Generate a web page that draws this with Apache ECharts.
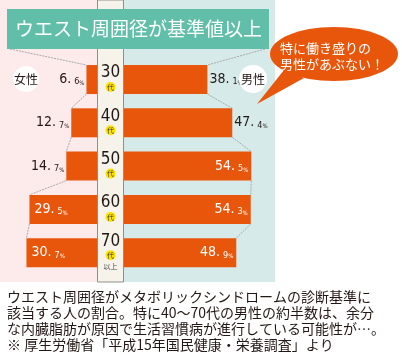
<!DOCTYPE html>
<html><head><meta charset="utf-8">
<script src="https://cdn.jsdelivr.net/npm/echarts@6/dist/echarts.min.js"></script>
<style>html,body{margin:0;padding:0;background:#fff}#c{width:402px;height:360px}</style>
</head><body><div id="c"></div>
<script>
// ---- data ----
const categories = ['30', '40', '50', '60', '70'];
const femaleValues = [6.6, 12.7, 14.7, 29.5, 30.7];
const maleValues = [38.1, 47.4, 54.5, 54.3, 48.9];
const titleText = 'ウエスト周囲径が基準値以上';
const bubbleLines = ['特に働き盛りの', '男性があぶない！'];
const noteLines = [
  'ウエスト周囲径がメタボリックシンドロームの診断基準に',
  '該当する人の割合。特に40〜70代の男性の約半数は、余分',
  'な内臓脂肪が原因で生活習慣病が進行している可能性が…。',
  '※ 厚生労働省「平成15年国民健康・栄養調査」より'
];

// ---- styles ----
const ORANGE = '#e8560c';
const DARK = '#231815';
const NARROW = "'Liberation Sans Narrow','DejaVu Sans Condensed',sans-serif";
const JP = "'Noto Sans CJK JP',sans-serif";
const BAR_W = 29;

function fmt(p) {
  const s = Number(p.value).toFixed(1).split('.');
  return '{i|' + s[0] + '.}{d|' + s[1] + '}{p|%}';
}
function richFor(color) {
  return {
    i: {fontSize: 14, fontFamily: NARROW, color: color, lineHeight: 14, verticalAlign: 'bottom'},
    d: {fontSize: 9, fontFamily: NARROW, color: color, lineHeight: 11, verticalAlign: 'bottom', padding: [0, 0, 0, 3]},
    p: {fontSize: 6, fontFamily: NARROW, color: color, lineHeight: 10, verticalAlign: 'bottom'}
  };
}
function barData(values, insideTest, insidePos, outsidePos, insideDist) {
  return values.map(v => {
    const inside = insideTest(v);
    return {
      value: v,
      label: {
        show: true,
        position: inside ? insidePos : outsidePos,
        distance: inside ? insideDist : 2,
        formatter: fmt,
        rich: richFor(inside ? '#fff' : DARK)
      }
    };
  });
}
function connector(xi, yi, values, anchor) {
  return {
    type: 'custom', xAxisIndex: xi, yAxisIndex: yi, z: 1, silent: true,
    data: values.map((v, i) => [v, i]),
    encode: {x: 0, y: 1},
    renderItem(params, api) {
      const i = api.value(1);
      const cur = api.coord([api.value(0), i]);
      const half = BAR_W / 2;
      let start;
      if (i === 0) start = anchor;
      else {
        const prev = api.coord([values[i - 1], i - 1]);
        start = [prev[0], prev[1] + half];
      }
      return {
        type: 'line',
        shape: {x1: start[0], y1: start[1], x2: cur[0], y2: cur[1] - half},
        style: {stroke: '#a9a9a9', lineWidth: 1, lineDash: [2, 1]}
      };
    }
  };
}

const chart = echarts.init(document.getElementById('c'), null, {renderer: 'canvas'});
const gTop = 57.9, gH = 216.4;
const option = {
  animation: false,
  grid: [
    {left: 0, width: 102.9, top: gTop, height: gH},
    {left: 105.4, width: 160.6, top: gTop, height: gH}
  ],
  xAxis: [
    {gridIndex: 0, type: 'value', inverse: true, min: 0, max: 102.9 / 2.49, show: false},
    {gridIndex: 1, type: 'value', min: 0, max: 60, show: false}
  ],
  yAxis: [
    {
      gridIndex: 0, type: 'category', inverse: true, data: categories, position: 'right', z: 10,
      axisLine: {show: false}, axisTick: {show: false}, splitLine: {show: false},
      axisLabel: {
        margin: 7.6, align: 'center',
        formatter: (val, idx) => idx === categories.length - 1
          ? '{n|' + val + '}\n{d|代}\n{s|以上}'
          : '{n|' + val + '}\n{d|代}',
        rich: {
          n: {fontSize: 17, fontFamily: NARROW, color: DARK, lineHeight: 15, align: 'center'},
          d: {fontSize: 7, fontFamily: JP, color: '#333', backgroundColor: '#ffe100', borderRadius: 5,
              width: 10, height: 10, lineHeight: 13, align: 'center'},
          s: {fontSize: 7, fontFamily: JP, color: '#444', lineHeight: 10, align: 'center'}
        }
      }
    },
    {gridIndex: 1, type: 'category', inverse: true, data: categories, show: false}
  ],
  series: [
    {
      type: 'bar', name: '女性', xAxisIndex: 0, yAxisIndex: 0, barWidth: BAR_W, z: 2,
      itemStyle: {color: ORANGE},
      data: barData(femaleValues, v => v > 20, 'insideLeft', 'left', 5)
    },
    {
      type: 'bar', name: '男性', xAxisIndex: 1, yAxisIndex: 1, barWidth: BAR_W, z: 2,
      itemStyle: {color: ORANGE},
      data: barData(maleValues, v => v > 48, 'insideRight', 'right', 3)
    },
    connector(0, 0, femaleValues, [10, 49]),
    connector(1, 1, maleValues, [265, 49])
  ],
  graphic: [
    // panels
    {type: 'rect', z: -5, shape: {x: 0, y: 0, width: 98, height: 282}, style: {fill: '#fdeaea'}},
    {type: 'rect', z: -5, shape: {x: 123, y: 0, width: 152, height: 282}, style: {fill: '#d6ebe9'}},
    // centre column
    {type: 'rect', z: 5, shape: {x: 97.5, y: 0, width: 26, height: 282}, style: {fill: '#f6f4ea', stroke: '#8f8f8f', lineWidth: 1}},
    // title
    {type: 'rect', z: 6, shape: {x: 7, y: 9, width: 262, height: 40}, style: {fill: '#61bea9'}},
    {type: 'text', z: 7, x: 15, y: 29, style: {text: titleText, fill: '#fff', font: '19px ' + JP, verticalAlign: 'middle'}},
    // gender badges
    {type: 'circle', z: 6, shape: {cx: 26, cy: 79, r: 13}, style: {fill: '#fff'}},
    {type: 'text', z: 7, x: 26, y: 79, style: {text: '女性', fill: DARK, font: '12px ' + JP, align: 'center', verticalAlign: 'middle'}},
    {type: 'circle', z: 6, shape: {cx: 253, cy: 79, r: 14}, style: {fill: '#fff'}},
    {type: 'text', z: 7, x: 253, y: 79, style: {text: '男性', fill: DARK, font: '12px ' + JP, align: 'center', verticalAlign: 'middle'}},
    // speech bubble
    {type: 'polygon', z: 8, shape: {points: [[284, 70], [304, 78], [257, 104]]}, style: {fill: ORANGE}},
    {type: 'ellipse', z: 8, shape: {cx: 334, cy: 54, rx: 64, ry: 27}, style: {fill: ORANGE}},
    {type: 'text', z: 9, x: 280, y: 48, style: {text: bubbleLines[0], fill: '#fff', font: '13px ' + JP, verticalAlign: 'middle'}},
    {type: 'text', z: 9, x: 280, y: 64, style: {text: bubbleLines[1], fill: '#fff', font: '13px ' + JP, verticalAlign: 'middle'}},
    // note
    {type: 'text', z: 9, x: 7, y: 297, style: {text: noteLines[0], fill: DARK, font: '14px ' + JP, verticalAlign: 'middle'}},
    {type: 'text', z: 9, x: 7, y: 313, style: {text: noteLines[1], fill: DARK, font: '14px ' + JP, verticalAlign: 'middle'}},
    {type: 'text', z: 9, x: 7, y: 329, style: {text: noteLines[2], fill: DARK, font: '14px ' + JP, verticalAlign: 'middle'}},
    {type: 'text', z: 9, x: 7, y: 345, style: {text: noteLines[3], fill: DARK, font: '14px ' + JP, verticalAlign: 'middle'}}
  ]
};
chart.setOption(option);
</script>
</body></html>
